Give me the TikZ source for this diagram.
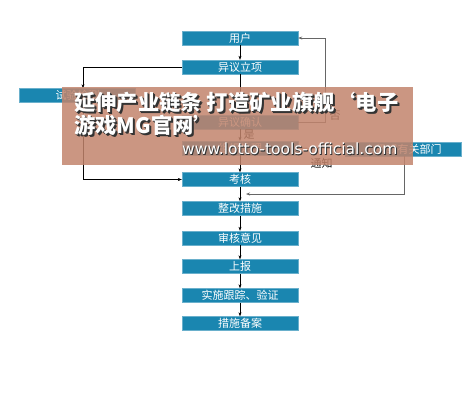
\documentclass[tikz,border=0pt]{standalone}
\usepackage{fontspec}
\setmainfont{Noto Sans CJK SC}
\newfontfamily\urlfont{DejaVu Sans}
\usetikzlibrary{arrows.meta,positioning}
\definecolor{boxblue}{RGB}{26,134,176}
\definecolor{adtan}{RGB}{194,132,108}

\begin{document}
\begin{tikzpicture}[x=1pt,y=-1pt,
    box/.style={fill=boxblue,draw=boxblue!65!white,text=white,minimum width=116pt,
                minimum height=14pt,inner sep=0pt,font=\fontsize{11}{11}\selectfont},
    arr/.style={-{Stealth[length=4pt,width=3pt]},thin},
    back/.style={-{Stealth[length=4pt,width=3pt]},gray!80!black,semithick}]
                \useasboundingbox (0,0) rectangle (474,416);
                % boxes
                \node[box] (user)     at (240,38)  {用户};
                \node[box] (lixiang)  at (240,67)  {异议立项};
                \node[box] (shiyan)   at (77.5,95.5) {试验检测};
                \node[box] (queren)   at (240,122) {异议确认};
                \node[box] (chuli)    at (240,148) {组织处理};
                \node[box] (bumen)    at (403,149) {上级或有关部门};
                \node[box] (kaohe)    at (240,179.5) {考核};
                \node[box] (zhenggai) at (240,208.5) {整改措施};
                \node[box] (shenhe)   at (240,238) {审核意见};
                \node[box] (shangbao) at (240,266.5) {上报};
                \node[box] (genzong)  at (240,295.5) {实施跟踪、验证};
                \node[box] (beian)    at (240,323.5) {措施备案};
                % arrows
                \draw[arr] (user) -- (lixiang);
                \draw[arr] (lixiang) -- (queren);
                \draw[arr] (queren) -- node[right,font=\fontsize{11}{11}\selectfont]{是} (chuli);
                \draw[arr] (lixiang.west) -| ([xshift=5.5pt]shiyan.north);
                \draw[arr] ([xshift=5.5pt]shiyan.south) |- (kaohe.west);
                \draw[back] (queren.east) -- ++(27,0) node[above right,inner sep=1pt,xshift=3pt,text=black,
                    font=\fontsize{11}{11}\selectfont]{否} |- (user.east);
                \draw[arr] (chuli.east) -- node[below=6pt,font=\fontsize{11}{11}\selectfont]{通知} (bumen.west);
                \foreach \a/\b in {chuli/kaohe,kaohe/zhenggai,zhenggai/shenhe,
                                   shenhe/shangbao,shangbao/genzong,genzong/beian}
                    {\draw[arr] (\a) -- (\b);}
                \path (kaohe.south) -- (zhenggai.north) coordinate[midway] (mid);
                \draw[back] ([xshift=1pt]bumen.south) |- ([xshift=6pt]mid);
                % overlay
                \fill[adtan,opacity=0.85] (62,87) rectangle (413,165);
                \foreach \dx/\col in {2/black!80,1/black!80,0/white}
                    {\node[anchor=north west,align=left,inner sep=0pt,text=\col,
                           font=\fontsize{21.3}{23}\selectfont\bfseries]
                        at (74+\dx,92+\dx) {延伸产业链条 打造矿业旗舰‘电子\\游戏MG官网’};
                     \node[anchor=west,inner sep=0pt,text=\col,font=\urlfont\fontsize{15.5}{15.5}\selectfont]
                        at (182+\dx/2,149+\dx/2) {www.lotto-tools-official.com};}
\end{tikzpicture}
\end{document}
